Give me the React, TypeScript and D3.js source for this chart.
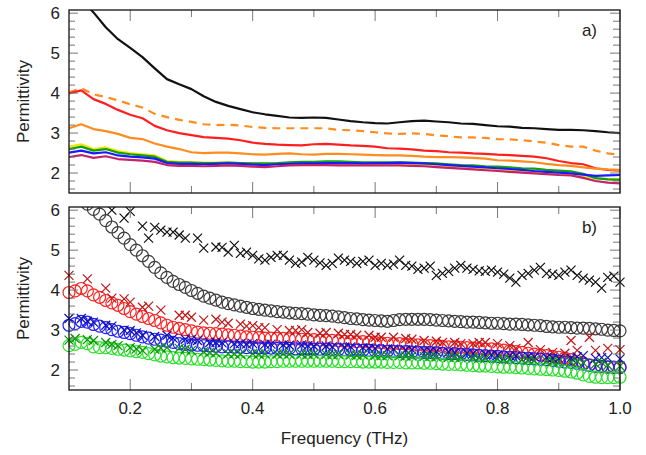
import * as d3 from "d3";

// frequency grids (THz)
const freqLine = [
  0.1, 0.12, 0.14, 0.16, 0.18, 0.2, 0.22, 0.24, 0.26, 0.28,
  0.3, 0.32, 0.34, 0.36, 0.38, 0.4, 0.42, 0.44, 0.46, 0.48,
  0.5, 0.52, 0.54, 0.56, 0.58, 0.6, 0.62, 0.64, 0.66, 0.68,
  0.7, 0.72, 0.74, 0.76, 0.78, 0.8, 0.82, 0.84, 0.86, 0.88,
  0.9, 0.92, 0.94, 0.96, 0.98, 1.0,
];
const freqDense = [
  0.1, 0.11, 0.12, 0.13, 0.14, 0.15, 0.16, 0.17, 0.18, 0.19,
  0.2, 0.21, 0.22, 0.23, 0.24, 0.25, 0.26, 0.27, 0.28, 0.29,
  0.3, 0.31, 0.32, 0.33, 0.34, 0.35, 0.36, 0.37, 0.38, 0.39,
  0.4, 0.41, 0.42, 0.43, 0.44, 0.45, 0.46, 0.47, 0.48, 0.49,
  0.5, 0.51, 0.52, 0.53, 0.54, 0.55, 0.56, 0.57, 0.58, 0.59,
  0.6, 0.61, 0.62, 0.63, 0.64, 0.65, 0.66, 0.67, 0.68, 0.69,
  0.7, 0.71, 0.72, 0.73, 0.74, 0.75, 0.76, 0.77, 0.78, 0.79,
  0.8, 0.81, 0.82, 0.83, 0.84, 0.85, 0.86, 0.87, 0.88, 0.89,
  0.9, 0.91, 0.92, 0.93, 0.94, 0.95, 0.96, 0.97, 0.98, 0.99,
  1.0,
];

// panel a) lines
const lineBlack = [
  6.9, 6.35, 6.02, 5.65, 5.35, 5.13, 4.9, 4.62, 4.35, 4.22,
  4.1, 3.92, 3.78, 3.68, 3.6, 3.52, 3.47, 3.43, 3.39, 3.38,
  3.39, 3.38, 3.34, 3.3, 3.27, 3.25, 3.24, 3.27, 3.3, 3.31,
  3.29, 3.27, 3.24, 3.23, 3.2, 3.17, 3.16, 3.13, 3.12, 3.1,
  3.08, 3.08, 3.07, 3.05, 3.02, 3.0,
];
const lineOrangeDash = [
  4.02, 4.12, 3.97, 3.9, 3.82, 3.72, 3.64, 3.48, 3.4, 3.33,
  3.28, 3.22, 3.2, 3.21, 3.19, 3.15, 3.13, 3.12, 3.12, 3.12,
  3.12, 3.12, 3.08, 3.07, 3.05, 3.02, 2.99, 2.98, 2.99, 2.98,
  2.94, 2.92, 2.89, 2.89, 2.88, 2.85, 2.84, 2.82, 2.79, 2.76,
  2.7, 2.66, 2.66, 2.56, 2.49, 2.46,
];
const lineRed = [
  3.99, 4.07, 3.85, 3.73, 3.58, 3.46, 3.37, 3.18, 3.07, 3.0,
  2.95, 2.9, 2.88, 2.86, 2.82, 2.76, 2.73, 2.71, 2.7, 2.69,
  2.72, 2.73, 2.71, 2.69, 2.68, 2.66, 2.62, 2.61, 2.59, 2.56,
  2.55, 2.52, 2.51, 2.49, 2.48, 2.46, 2.45, 2.43, 2.41, 2.37,
  2.3, 2.25, 2.22, 2.12, 2.08, 2.06,
];
const lineOrange = [
  3.12, 3.22, 3.1, 3.05, 2.98, 2.88, 2.85, 2.74, 2.66, 2.6,
  2.52, 2.5, 2.51, 2.51, 2.49, 2.47, 2.46, 2.48, 2.49, 2.47,
  2.46, 2.48, 2.48, 2.47, 2.46, 2.45, 2.44, 2.44, 2.43, 2.41,
  2.4, 2.4, 2.39, 2.38, 2.36, 2.32, 2.31, 2.29, 2.27, 2.23,
  2.2, 2.18, 2.14, 2.11, 2.09, 2.08,
];
const lineYellow = [
  2.66, 2.72, 2.6, 2.64, 2.55, 2.5, 2.47, 2.44, 2.3, 2.28,
  2.27, 2.26, 2.26, 2.26, 2.25, 2.24, 2.23, 2.24, 2.25, 2.25,
  2.24, 2.24, 2.23, 2.23, 2.22, 2.22, 2.22, 2.22, 2.21, 2.2,
  2.18, 2.16, 2.14, 2.12, 2.1, 2.08, 2.07, 2.05, 2.02, 2.0,
  1.99, 1.97, 1.93, 1.87, 1.85, 1.85,
];
const lineGreen = [
  2.6, 2.66, 2.56, 2.6, 2.51, 2.47, 2.44, 2.41, 2.28, 2.26,
  2.26, 2.25, 2.25, 2.26, 2.25, 2.24, 2.24, 2.25, 2.27, 2.28,
  2.28, 2.29, 2.29, 2.28, 2.27, 2.27, 2.27, 2.27, 2.26, 2.25,
  2.24, 2.22, 2.2, 2.19, 2.17, 2.16, 2.14, 2.12, 2.11, 2.08,
  2.06, 2.04, 1.98, 1.87, 1.84, 1.83,
];
const lineBlue = [
  2.51, 2.56, 2.49, 2.52, 2.44, 2.41, 2.39, 2.36, 2.25, 2.23,
  2.23, 2.22, 2.23, 2.24, 2.23, 2.21, 2.2, 2.22, 2.23, 2.24,
  2.24, 2.25, 2.25, 2.25, 2.24, 2.25, 2.25, 2.26, 2.25, 2.24,
  2.22, 2.2, 2.18, 2.16, 2.14, 2.12, 2.1, 2.08, 2.05, 2.03,
  2.01, 1.99, 1.96, 1.93, 1.94, 1.95,
];
const lineCrimson = [
  2.4, 2.45, 2.38, 2.42, 2.35, 2.33, 2.31, 2.28, 2.2, 2.18,
  2.18, 2.17, 2.18, 2.19, 2.18, 2.16, 2.15, 2.17, 2.19, 2.2,
  2.2, 2.2, 2.19, 2.19, 2.19, 2.19, 2.19, 2.19, 2.18, 2.17,
  2.15, 2.13, 2.11, 2.09, 2.07, 2.05, 2.03, 2.01, 1.99, 1.97,
  1.95, 1.94, 1.88, 1.8, 1.76, 1.74,
];

// panel b) circles
const circBlack = [
  null, null, null, 6.15, 6.02, 5.9, 5.74, 5.58, 5.44, 5.3,
  5.14, 5.0, 4.86, 4.72, 4.57, 4.43, 4.32, 4.22, 4.14, 4.07,
  3.99, 3.92, 3.85, 3.8, 3.75, 3.7, 3.66, 3.63, 3.6, 3.57,
  3.54, 3.52, 3.5, 3.48, 3.46, 3.45, 3.43, 3.42, 3.41, 3.4,
  3.38, 3.37, 3.36, 3.35, 3.33, 3.31, 3.29, 3.28, 3.26, 3.25,
  3.24, 3.23, 3.22, 3.24, 3.26, 3.27, 3.27, 3.27, 3.27, 3.26,
  3.25, 3.24, 3.23, 3.22, 3.21, 3.2, 3.2, 3.19, 3.18, 3.17,
  3.17, 3.16, 3.15, 3.15, 3.14, 3.13, 3.12, 3.11, 3.09, 3.08,
  3.07, 3.07, 3.06, 3.05, 3.05, 3.04, 3.03, 3.02, 3.0, 2.99,
  2.98,
];
const circRed = [
  3.94, 3.98, 4.04, 3.98, 3.88, 3.82, 3.74, 3.68, 3.62, 3.54,
  3.46, 3.4, 3.34, 3.29, 3.24, 3.18, 3.12, 3.07, 3.04, 3.01,
  2.98, 2.95, 2.93, 2.92, 2.91, 2.9, 2.88, 2.87, 2.85, 2.83,
  2.82, 2.81, 2.8, 2.8, 2.79, 2.79, 2.78, 2.78, 2.77, 2.76,
  2.76, 2.75, 2.74, 2.74, 2.73, 2.72, 2.72, 2.71, 2.71, 2.7,
  2.69, 2.68, 2.67, 2.66, 2.66, 2.65, 2.64, 2.63, 2.62, 2.61,
  2.6, 2.59, 2.58, 2.58, 2.57, 2.56, 2.55, 2.54, 2.53, 2.53,
  2.52, 2.5, 2.48, 2.46, 2.44, 2.42, 2.4, 2.38, 2.36, 2.34,
  2.32, 2.3, 2.26, 2.22, 2.18, 2.13, 2.1, 2.08, 2.07, 2.06,
  2.06,
];
const circBlue = [
  3.12, 3.16, 3.22, 3.2, 3.14, 3.1, 3.06, 3.01, 2.97, 2.94,
  2.91, 2.87, 2.83, 2.8, 2.77, 2.75, 2.72, 2.69, 2.66, 2.64,
  2.63, 2.62, 2.61, 2.6, 2.59, 2.58, 2.58, 2.57, 2.57, 2.56,
  2.56, 2.55, 2.55, 2.55, 2.54, 2.54, 2.54, 2.53, 2.53, 2.53,
  2.52, 2.52, 2.52, 2.51, 2.51, 2.51, 2.5, 2.5, 2.49, 2.49,
  2.48, 2.48, 2.47, 2.47, 2.46, 2.46, 2.45, 2.45, 2.44, 2.44,
  2.43, 2.42, 2.41, 2.41, 2.4, 2.39, 2.38, 2.37, 2.36, 2.35,
  2.34, 2.33, 2.32, 2.31, 2.3, 2.29, 2.28, 2.27, 2.26, 2.24,
  2.22, 2.2, 2.19, 2.17, 2.15, 2.12, 2.1, 2.09, 2.08, 2.07,
  2.07,
];
const circGreen = [
  2.61, 2.64, 2.69, 2.66, 2.58, 2.56, 2.56, 2.54, 2.52, 2.5,
  2.48, 2.46, 2.44, 2.41, 2.38, 2.35, 2.33, 2.31, 2.3, 2.29,
  2.28, 2.27, 2.26, 2.25, 2.24, 2.23, 2.22, 2.22, 2.21, 2.21,
  2.2, 2.2, 2.2, 2.21, 2.21, 2.22, 2.22, 2.22, 2.22, 2.22,
  2.22, 2.22, 2.22, 2.22, 2.21, 2.21, 2.21, 2.21, 2.2, 2.2,
  2.2, 2.2, 2.19, 2.19, 2.19, 2.18, 2.18, 2.18, 2.17, 2.17,
  2.16, 2.15, 2.14, 2.14, 2.13, 2.12, 2.11, 2.1, 2.1, 2.09,
  2.08, 2.07, 2.07, 2.06, 2.05, 2.04, 2.03, 2.02, 2.01, 2.0,
  1.99, 1.97, 1.95, 1.92, 1.88, 1.84, 1.82, 1.81, 1.81, 1.81,
  1.82,
];

// panel b) crosses
const crossBlack = [
  null, null, null, null, null, null, null, 6.0, null, 5.8,
  5.97, null, 5.6, 5.3, 5.57, 5.5, 5.45, 5.45, 5.38, 5.3,
  null, 5.3, 5.05, null, 5.08, 5.07, 4.95, 5.12, 4.92, 4.95,
  4.87, 4.78, 4.75, 4.82, 4.87, 4.87, 4.75, 4.67, 4.7, 4.82,
  4.75, 4.68, 4.62, 4.67, 4.8, 4.75, 4.72, 4.67, 4.72, 4.75,
  4.62, 4.67, 4.62, 4.65, 4.75, 4.62, 4.6, 4.52, 4.55, 4.6,
  4.37, 4.42, 4.47, 4.55, 4.62, 4.55, 4.52, 4.48, 4.47, 4.5,
  4.45, 4.4, 4.3, 4.2, 4.37, 4.42, 4.5, 4.57, 4.42, 4.4,
  4.37, 4.45, 4.5, 4.37, 4.3, 4.25, 4.2, 4.05, 4.32, 4.35,
  4.2,
];
const crossRed = [
  4.37, null, null, 4.28, null, null, 4.05, 3.8, null, 3.78,
  3.7, null, 3.57, 3.6, null, 3.5, null, null, 3.37, 3.37,
  3.32, null, 3.25, null, 3.27, 3.2, 3.17, null, 3.15, 3.1,
  3.11, 3.06, 3.06, null, 3.01, null, 2.99, 2.99, 3.01, 2.94,
  null, 2.92, 2.94, null, 2.92, 2.89, 2.89, 2.87, null, 2.87,
  2.82, 2.82, null, 2.82, null, 2.79, 2.77, null, 2.74, null,
  2.72, 2.69, null, 2.69, 2.66, null, 2.66, 2.69, 2.69, null,
  2.66, null, 2.61, 2.54, null, 2.69, null, 2.51, null, 2.44,
  null, 2.42, 2.74, 2.49, null, 2.82, 2.49, null, 2.54, null,
  2.51,
];
const crossBlue = [
  3.29, null, 3.29, 3.22, 3.2, null, 3.12, 3.1, null, 3.0,
  2.99, 2.93, 2.87, null, 2.84, null, 2.87, 2.8, null, 2.77,
  2.76, 2.74, null, 2.69, 2.69, 2.68, null, 2.66, 2.66, 2.65,
  2.66, null, 2.64, 2.65, null, 2.63, 2.62, null, 2.63, 2.61,
  2.6, null, 2.6, 2.58, null, 2.57, 2.58, null, 2.56, 2.55,
  2.54, null, 2.53, 2.52, null, 2.5, 2.51, null, 2.48, 2.47,
  2.46, null, 2.45, 2.43, null, 2.42, 2.41, null, 2.39, 2.38,
  2.37, null, 2.36, 2.35, null, 2.34, 2.33, null, 2.31, 2.3,
  2.29, null, 2.3, 2.33, 2.36, null, 2.29, 2.31, 2.31, null,
  2.28,
];
const crossGreen = [
  2.75, 2.79, null, 2.76, 2.74, null, 2.69, 2.64, 2.61, null,
  2.56, 2.53, 2.49, null, 2.52, 2.55, 2.56, null, 2.54, 2.52,
  2.49, null, 2.46, 2.44, 2.43, null, 2.41, 2.41, 2.4, null,
  2.41, 2.4, 2.41, null, 2.4, 2.41, 2.4, null, 2.4, 2.39,
  2.4, null, 2.39, 2.38, 2.39, null, 2.38, 2.37, 2.38, null,
  2.37, 2.36, 2.36, null, 2.36, 2.35, 2.35, null, 2.34, 2.34,
  2.33, null, 2.32, 2.32, 2.31, null, 2.3, 2.3, 2.29, null,
  2.28, 2.27, 2.27, null, 2.26, 2.25, 2.24, null, 2.23, 2.22,
  2.21, null, 2.2, 2.22, 2.18, null, 2.15, 2.19, 2.12, null,
  2.1,
];

const xTickLabels = ["0.2", "0.4", "0.6", "0.8", "1.0"];
const xMajor = [0.2, 0.4, 0.6, 0.8, 1.0];
const xMinor = [0.3, 0.5, 0.7, 0.9];
const yMajor = [2, 3, 4, 5, 6];

const topLines = [
  { v: lineBlack, c: "#111111", dash: null },
  { v: lineOrangeDash, c: "#ff8c1f", dash: "8,6" },
  { v: lineRed, c: "#ff1f1f", dash: null },
  { v: lineOrange, c: "#ff8c1f", dash: null },
  { v: lineYellow, c: "#f2e600", dash: null },
  { v: lineGreen, c: "#10a010", dash: null },
  { v: lineBlue, c: "#1a1aff", dash: null },
  { v: lineCrimson, c: "#c4226a", dash: null },
];
const circleSets = [
  { v: circBlack, c: "#3a3a3a" },
  { v: circRed, c: "#ff2020" },
  { v: circBlue, c: "#2020ff" },
  { v: circGreen, c: "#28e028" },
];
const crossSets = [
  { v: crossBlack, c: "#111111" },
  { v: crossRed, c: "#c01818" },
  { v: crossBlue, c: "#1010b0" },
  { v: crossGreen, c: "#0a900a" },
];

const W = 646;
const H = 455;
const L = 69;
const R = 620;
const panels = [
  { top: 10, bottom: 193, label: "a)" },
  { top: 207, bottom: 390, label: "b)" },
];
const FONT = "'Liberation Sans', Arial, Helvetica, sans-serif";

const x = d3.scaleLinear().domain([0.1, 1.0]).range([L, R]);
const yMinor = d3.range(1.6, 6.01, 0.2).filter((v) => Math.abs(v - Math.round(v)) > 0.05);

function Frame({ p, idx, y }: any) {
  return (
    <g>
      {xMajor.map((t) => (
        <g key={"xM" + t} stroke="#777" strokeWidth={1}>
          <line x1={x(t)} x2={x(t)} y1={p.bottom} y2={p.bottom - 11} />
          <line x1={x(t)} x2={x(t)} y1={p.top} y2={p.top + 11} />
        </g>
      ))}
      {xMinor.map((t) => (
        <g key={"xm" + t} stroke="#777" strokeWidth={1}>
          <line x1={x(t)} x2={x(t)} y1={p.bottom} y2={p.bottom - 7} />
          <line x1={x(t)} x2={x(t)} y1={p.top} y2={p.top + 7} />
        </g>
      ))}
      {yMajor.map((t) => (
        <g key={"yM" + t} stroke="#777" strokeWidth={1}>
          <line x1={L} x2={L + 9} y1={y(t)} y2={y(t)} />
          <line x1={R} x2={R - 10} y1={y(t)} y2={y(t)} />
        </g>
      ))}
      {yMinor.map((t) => (
        <g key={"ym" + t} stroke="#777" strokeWidth={1}>
          <line x1={L} x2={L + 6} y1={y(t)} y2={y(t)} />
          <line x1={R} x2={R - 7} y1={y(t)} y2={y(t)} />
        </g>
      ))}
      <rect x={L} y={p.top} width={R - L} height={p.bottom - p.top} fill="none" stroke="#111" strokeWidth={1.3} />
      {yMajor.map((t) => (
        <text key={"yl" + t} x={60} y={y(t)} dy="0.35em" textAnchor="end" fontSize={17} fill="#222" fontFamily={FONT}>
          {t}
        </text>
      ))}
      <text x={597} y={p.top + 26} textAnchor="end" fontSize={17} fill="#222" fontFamily={FONT}>
        {p.label}
      </text>
      <text
        transform={`translate(29,${(p.top + p.bottom) / 2}) rotate(-90)`}
        textAnchor="middle"
        fontSize={17}
        fill="#222"
        fontFamily={FONT}
      >
        Permittivity
      </text>
      {idx === 1 &&
        xMajor.map((t, i) => (
          <text key={"xl" + t} x={x(t)} y={414} textAnchor="middle" fontSize={17} fill="#222" fontFamily={FONT}>
            {xTickLabels[i]}
          </text>
        ))}
    </g>
  );
}

export default function App() {
  const yTop = d3.scaleLinear().domain([1.5, 6.08]).range([panels[0].bottom, panels[0].top]);
  const yBot = d3.scaleLinear().domain([1.5, 6.08]).range([panels[1].bottom, panels[1].top]);

  const line = d3
    .line<number | null>()
    .defined((d) => d !== null)
    .x((_, i) => x(freqLine[i]))
    .y((d) => yTop(d as number));

  const crossPath = "M-4.5,-4.5L4.5,4.5M-4.5,4.5L4.5,-4.5";

  return (
    <svg
      width={W}
      height={H}
      style={{ position: "absolute", left: 0, top: 0, background: "#fff" }}
    >
      <defs>
        <clipPath id="clipA">
          <rect x={L} y={panels[0].top} width={R - L} height={panels[0].bottom - panels[0].top} />
        </clipPath>
        <clipPath id="clipB">
          <rect x={L - 8} y={panels[1].top} width={R - L + 16} height={panels[1].bottom - panels[1].top} />
        </clipPath>
      </defs>

      <g clipPath="url(#clipA)">
        {topLines.map((s, i) => (
          <path
            key={i}
            d={line(s.v) || ""}
            fill="none"
            stroke={s.c}
            strokeWidth={2.2}
            strokeDasharray={s.dash || undefined}
            strokeLinejoin="round"
          />
        ))}
      </g>

      <g clipPath="url(#clipB)">
        {circleSets.map((s, i) => (
          <g key={"c" + i} fill="none" stroke={s.c} strokeWidth={1.2}>
            {s.v.map((v, j) =>
              v === null ? null : <circle key={j} cx={x(freqDense[j])} cy={yBot(v)} r={6} />
            )}
          </g>
        ))}
        {crossSets.map((s, i) => (
          <g key={"x" + i} fill="none" stroke={s.c} strokeWidth={1.2}>
            {s.v.map((v, j) =>
              v === null ? null : (
                <path key={j} d={crossPath} transform={`translate(${x(freqDense[j])},${yBot(v)})`} />
              )
            )}
          </g>
        ))}
      </g>

      <Frame p={panels[0]} idx={0} y={yTop} />
      <Frame p={panels[1]} idx={1} y={yBot} />

      <text x={(L + R) / 2} y={444} textAnchor="middle" fontSize={17} fill="#222" fontFamily={FONT}>
        Frequency (THz)
      </text>
    </svg>
  );
}
